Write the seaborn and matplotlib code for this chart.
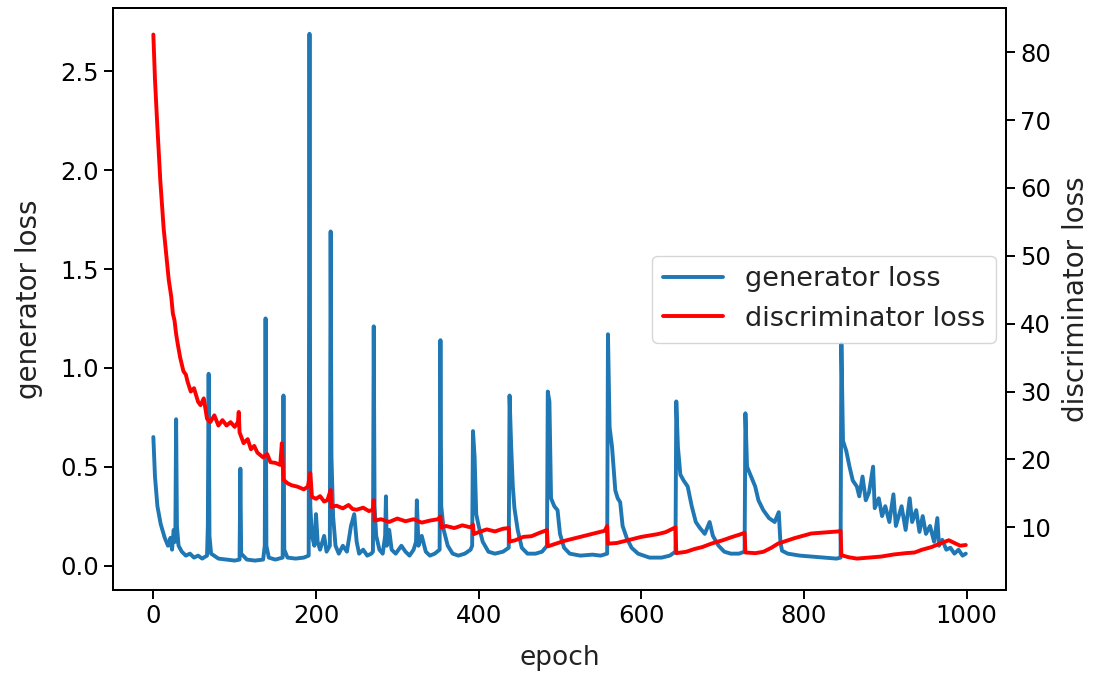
import matplotlib
matplotlib.use("Agg")
import matplotlib.pyplot as plt
import numpy as np
import pandas as pd
import seaborn as sns

# generator loss (epoch, value)
gen_epoch = [0, 2, 5, 9, 14, 18, 21, 23, 25, 27, 28, 29, 31, 35, 40, 45, 50, 55, 60, 66,
             67, 68, 69, 71, 80, 90, 100, 106, 107, 108, 115, 125, 135, 137, 138, 139, 142, 150, 159, 160,
             161, 165, 175, 185, 191, 192, 193, 195, 198, 200, 202, 205, 210, 213, 217, 218, 219, 221, 224, 228,
             233, 238, 243, 247, 250, 253, 258, 263, 268, 270, 271, 272, 274, 278, 282, 285, 286, 287, 290, 293,
             298, 305, 310, 315, 320, 323, 324, 326, 330, 335, 340, 346, 352, 353, 354, 357, 362, 368, 375, 383,
             390, 392, 393, 395, 397, 400, 405, 412, 420, 430, 437, 438, 440, 442, 444, 448, 453, 460, 470, 478,
             484, 485, 487, 489, 493, 497, 500, 505, 512, 525, 540, 550, 558, 559, 561, 564, 568, 571, 574, 577,
             582, 588, 596, 610, 625, 635, 642, 643, 645, 648, 652, 657, 662, 667, 672, 678, 684, 688, 695, 702,
             710, 720, 727, 728, 730, 734, 740, 744, 750, 757, 764, 769, 771, 773, 780, 795, 810, 825, 840, 845,
             846, 848, 852, 856, 860, 865, 868, 872, 876, 880, 885, 887, 892, 896, 900, 905, 910, 913, 920, 925,
             930, 933, 938, 942, 946, 950, 955, 960, 964, 966, 970, 975, 980, 985, 990, 995, 999]
gen_loss = [0.65, 0.45, 0.30, 0.21, 0.14, 0.10, 0.14, 0.08, 0.18, 0.12, 0.74, 0.20, 0.10, 0.07, 0.05, 0.06, 0.04, 0.05, 0.035, 0.05,
            0.20, 0.97, 0.15, 0.06, 0.035, 0.03, 0.025, 0.03, 0.49, 0.06, 0.03, 0.025, 0.03, 0.10, 1.25, 0.10, 0.04, 0.03, 0.04, 0.86,
            0.08, 0.04, 0.035, 0.04, 0.05, 2.69, 0.30, 0.15, 0.10, 0.26, 0.12, 0.08, 0.15, 0.07, 0.10, 1.69, 0.55, 0.25, 0.10, 0.06,
            0.10, 0.07, 0.20, 0.26, 0.12, 0.06, 0.08, 0.05, 0.06, 0.07, 1.21, 0.30, 0.15, 0.08, 0.06, 0.15, 0.35, 0.10, 0.18, 0.08,
            0.06, 0.10, 0.07, 0.05, 0.08, 0.12, 0.33, 0.10, 0.15, 0.07, 0.05, 0.06, 0.08, 1.14, 0.30, 0.18, 0.10, 0.06, 0.05, 0.06,
            0.08, 0.10, 0.68, 0.55, 0.26, 0.20, 0.12, 0.07, 0.06, 0.07, 0.09, 0.86, 0.60, 0.40, 0.29, 0.18, 0.09, 0.06, 0.06, 0.07,
            0.10, 0.88, 0.83, 0.34, 0.30, 0.28, 0.16, 0.09, 0.06, 0.05, 0.055, 0.05, 0.06, 1.17, 0.70, 0.60, 0.38, 0.34, 0.32, 0.20,
            0.14, 0.09, 0.06, 0.04, 0.04, 0.05, 0.07, 0.83, 0.60, 0.46, 0.43, 0.40, 0.30, 0.22, 0.19, 0.16, 0.22, 0.15, 0.10, 0.07,
            0.06, 0.06, 0.07, 0.77, 0.50, 0.46, 0.40, 0.33, 0.28, 0.24, 0.22, 0.27, 0.12, 0.075, 0.06, 0.05, 0.045, 0.04, 0.035, 0.04,
            1.12, 0.63, 0.58, 0.50, 0.43, 0.40, 0.35, 0.45, 0.33, 0.37, 0.50, 0.29, 0.34, 0.25, 0.30, 0.22, 0.36, 0.20, 0.30, 0.18,
            0.34, 0.22, 0.28, 0.17, 0.25, 0.16, 0.20, 0.12, 0.24, 0.10, 0.13, 0.08, 0.09, 0.06, 0.08, 0.05, 0.06]

# discriminator loss (epoch, value)
disc_epoch = [0, 2, 4.5, 8.6, 12.7, 19, 22, 24, 26, 28, 30, 33, 37, 40, 42, 46, 50, 55, 58, 62,
              66, 70, 75, 80, 85, 90, 95, 100, 104, 105, 106, 111, 116, 120, 124, 128, 135, 140, 144, 150,
              156, 158, 160, 165, 170, 177, 185, 190, 193, 195, 200, 205, 210, 214, 218, 219, 225, 233, 240, 245,
              250, 258, 265, 270, 271, 272, 280, 290, 300, 310, 320, 330, 340, 350, 353, 354, 360, 370, 380, 390,
              393, 394, 400, 410, 420, 430, 437, 438, 445, 455, 465, 475, 484, 485, 495, 505, 515, 525, 535, 545,
              555, 558, 559, 570, 580, 590, 600, 610, 620, 630, 642, 643, 655, 665, 675, 686, 700, 712, 720, 727,
              728, 740, 750, 760, 768, 778, 788, 800, 809, 820, 830, 842, 845, 846, 855, 865, 875, 885, 895, 910,
              925, 936, 945, 957, 965, 978, 985, 992, 999]
disc_loss = [82.6, 76, 70, 61, 54, 46.4, 44, 41.5, 40.5, 38.5, 37, 35, 33, 32.5, 31.5, 30, 30.5, 28.5, 28, 29,
             26, 25.5, 26.5, 25, 25.8, 25, 25.5, 24.8, 25.5, 27, 24, 22.4, 23, 21.5, 22, 21, 20.3, 20.8, 19.6, 19.5,
             19.2, 22.4, 17, 16.5, 16.2, 16, 15.6, 16, 18, 14.5, 14.2, 14.6, 13.8, 14, 15.5, 13, 13.2, 12.8, 13.3, 12.7,
             12.6, 12.9, 12.4, 12.6, 14, 11, 11.2, 10.8, 11.3, 10.9, 11.2, 10.7, 11, 11.2, 11.6, 10, 10.2, 9.9, 10.3, 10,
             10.4, 9, 9.3, 9.7, 9.4, 9.8, 9.9, 7.9, 8.1, 8.6, 8.7, 9.2, 9.6, 7.2, 7.6, 8.0, 8.3, 8.6, 8.9, 9.2,
             9.5, 10.2, 7.6, 7.7, 8.0, 8.3, 8.6, 8.8, 9.0, 9.3, 10.0, 6.2, 6.4, 6.8, 7.1, 7.6, 8.1, 8.6, 8.9, 9.2,
             6.3, 6.2, 6.4, 7.0, 7.6, 8.0, 8.4, 8.8, 9.1, 9.2, 9.3, 9.4, 9.5, 5.9, 5.6, 5.4, 5.5, 5.6, 5.7, 6.0,
             6.2, 6.3, 6.7, 7.1, 7.5, 8.1, 7.7, 7.3, 7.4]

gen_df = pd.DataFrame({'epoch': gen_epoch, 'loss': gen_loss})
disc_df = pd.DataFrame({'epoch': disc_epoch, 'loss': disc_loss})

sns.set_style('ticks')
plt.rcParams['font.family'] = ['DejaVu Sans']
plt.rcParams['font.size'] = 18
plt.rcParams['axes.edgecolor'] = 'black'
plt.rcParams['xtick.color'] = 'black'
plt.rcParams['ytick.color'] = 'black'
plt.rcParams['text.color'] = '#222222'
plt.rcParams['axes.labelcolor'] = '#222222'

fig = plt.figure(figsize=(10.94, 6.73), dpi=100)
ax1 = fig.add_axes([0.103, 0.123, 0.817, 0.865])
ax2 = ax1.twinx()

sns.lineplot(data=gen_df, x='epoch', y='loss', ax=ax1, color='#1f77b4',
             linewidth=2.8, label='generator loss', legend=False)
sns.lineplot(data=disc_df, x='epoch', y='loss', ax=ax2, color='red',
             linewidth=2.8, label='discriminator loss', legend=False)

for ax in (ax1, ax2):
    if ax.get_legend() is not None:
        ax.get_legend().remove()
    ax.tick_params(labelsize=17.5, length=6.5, width=1.4)
    for sp in ax.spines.values():
        sp.set_linewidth(1.4)

ax1.set_xlim(-50, 1049)
ax1.set_ylim(-0.125, 2.82)
ax2.set_ylim(0.74, 86.5)
ax1.set_xticks([0, 200, 400, 600, 800, 1000])
ax1.set_yticks([0.0, 0.5, 1.0, 1.5, 2.0, 2.5])
ax2.set_yticks([10, 20, 30, 40, 50, 60, 70, 80])
ax1.set_xlabel('epoch', fontsize=19, labelpad=12)
ax1.set_ylabel('generator loss', fontsize=20, labelpad=12)
ax2.set_ylabel('discriminator loss', fontsize=20, labelpad=8)

h1, l1 = ax1.get_legend_handles_labels()
h2, l2 = ax2.get_legend_handles_labels()
ax2.legend(h1 + h2, l1 + l2, loc='center right', fontsize=19.5, frameon=True,
           fancybox=True, framealpha=0.8, edgecolor='#cccccc',
           borderaxespad=0.4, handlelength=2.2)

fig.savefig('out.png', dpi=100)
